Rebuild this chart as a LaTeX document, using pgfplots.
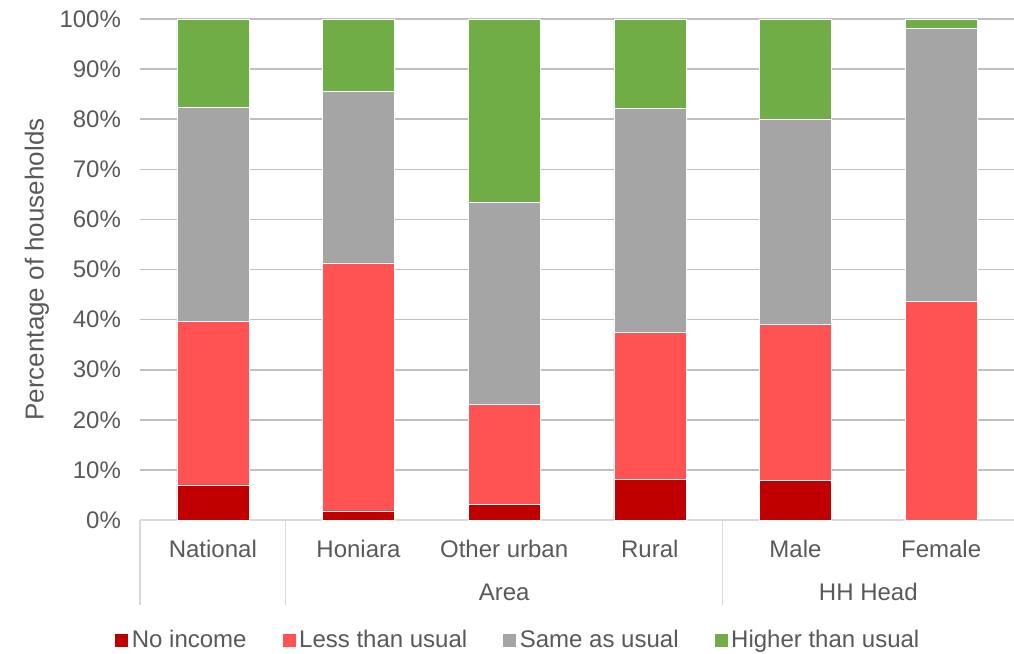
\documentclass[border=0pt]{standalone}
\usepackage{fontspec}
\setmainfont{Liberation Sans}
\usepackage{pgfplots}
\pgfplotsset{compat=1.18}
\usepackage{pgfplotstable}
\definecolor{noinc}{HTML}{C00000}
\definecolor{less}{HTML}{FF5353}
\definecolor{same}{HTML}{A5A5A5}
\definecolor{high}{HTML}{70AD47}
\definecolor{txt}{HTML}{595959}
\definecolor{grid}{HTML}{D9D9D9}
\pgfplotstableread{
x a b c d
0 7.0 32.7 42.6 17.7
1 1.8 49.5 34.3 14.4
2 3.1 19.9 40.5 36.5
3 8.1 29.4 44.6 17.9
4 7.9 31.2 40.9 20.0
5 0.0 43.7 54.4 1.9
}\data
\begin{document}
\begin{tikzpicture}[x=0.5pt,y=0.5pt]
\useasboundingbox (-140,-134) rectangle (874,520);
\begin{axis}[
  at={(0,0)}, anchor=south west,
  scale only axis, width=437pt, height=250.5pt,
  ybar stacked, bar width=36pt,
  xmin=-0.5, xmax=5.5, ymin=0, ymax=100,
  xtick=data, xticklabels={National,Honiara,Other urban,Rural,Male,Female},
  ytick={0,10,...,100},
  yticklabel={\pgfmathprintnumber{\tick}\%},
  /pgf/number format/assume math mode=true,
  major tick length=0pt,
  ymajorgrids, grid style={grid, line width=0.8pt},
  axis x line*=bottom, axis y line*=left,
  x axis line style={grid, line width=0.8pt, -},
  y axis line style={draw=none},
  ticklabel style={font=\fontsize{12}{14}\selectfont, text=txt},
  xticklabel style={anchor=center, yshift=-14.5pt},
  yticklabel style={anchor=east, xshift=-6pt},
  clip=false,
  legend style={draw=none, at={(axis description cs:0.434,-0.2395)}, anchor=center,
    legend columns=4, font=\fontsize{12}{14}\selectfont, text=txt,
    /tikz/every even column/.append style={column sep=16pt},
    /tikz/every odd column/.append style={column sep=0pt}},
  legend cell align=left,
]
\addplot[fill=noinc, draw=white, line width=0.3pt, legend image code/.code={\fill[noinc] (-0.5pt,-3pt) rectangle (5.5pt,3pt);}] table[x=x,y=a] {\data};
\addlegendentry{No income}
\addplot[fill=less, draw=white, line width=0.3pt, legend image code/.code={\fill[less] (-0.5pt,-3pt) rectangle (5.5pt,3pt);}] table[x=x,y=b] {\data};
\addlegendentry{Less than usual}
\addplot[fill=same, draw=white, line width=0.3pt, legend image code/.code={\fill[same] (-0.5pt,-3pt) rectangle (5.5pt,3pt);}] table[x=x,y=c] {\data};
\addlegendentry{Same as usual}
\addplot[fill=high, draw=white, line width=0.3pt, legend image code/.code={\fill[high] (-0.5pt,-3pt) rectangle (5.5pt,3pt);}] table[x=x,y=d] {\data};
\addlegendentry{Higher than usual}
\draw[grid, line width=0.8pt] (axis cs:-0.5,0) -- ++(0pt,-42.5pt);
\draw[grid, line width=0.8pt] (axis cs:0.5,0) -- ++(0pt,-42.5pt);
\draw[grid, line width=0.8pt] (axis cs:3.5,0) -- ++(0pt,-42.5pt);
\node[font=\fontsize{12}{14}\selectfont, text=txt] at ([yshift=-36pt]axis cs:2,0) {Area};
\node[font=\fontsize{12}{14}\selectfont, text=txt] at ([yshift=-36pt]axis cs:4.5,0) {HH Head};
\node[font=\fontsize{13}{15}\selectfont, text=txt, rotate=90] at ([xshift=-51.5pt]axis description cs:0,0.5) {Percentage of households};
\end{axis}
\end{tikzpicture}
\end{document}
